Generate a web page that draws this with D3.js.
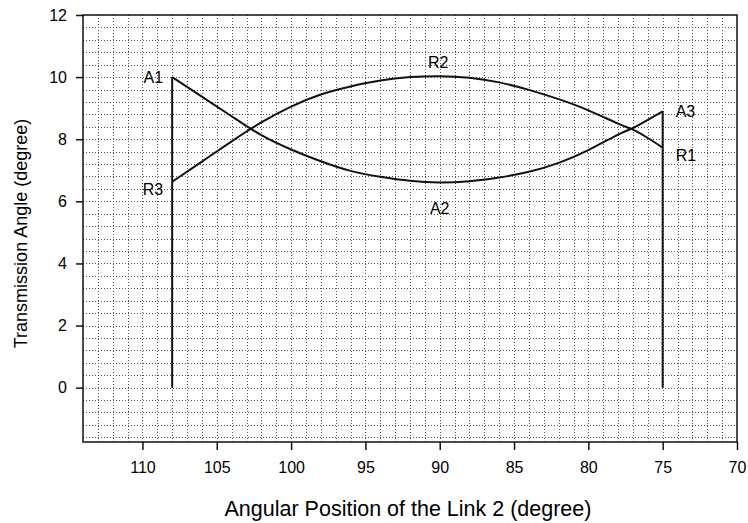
<!DOCTYPE html>
<html>
<head>
<meta charset="utf-8">
<script src="https://cdn.jsdelivr.net/npm/d3@7"></script>
<style>
  html, body { margin: 0; padding: 0; background: #fff; }
  text { font-family: "Liberation Sans", Arial, Helvetica, sans-serif; fill: #000; }
</style>
</head>
<body>
<svg id="chart" width="748" height="523"></svg>
<script>
// ---- data ----
const linkAngles = [108, 106, 104, 102, 100, 98, 96, 94, 92, 90, 88, 86, 84, 82, 80, 78, 77, 76, 75];
const curveA = [10.0, 9.37, 8.74, 8.13, 7.67, 7.29, 6.98, 6.79, 6.66, 6.61, 6.65, 6.77, 6.95, 7.24, 7.65, 8.15, 8.36, 8.62, 8.9];
const curveR = [6.63, 7.28, 7.93, 8.54, 9.05, 9.44, 9.70, 9.89, 10.0, 10.03, 9.98, 9.83, 9.59, 9.29, 8.93, 8.5, 8.31, 8.04, 7.73];
const verticalLeft = { angle: 108, from: 0, to: 10.0 };
const verticalRight = { angle: 75, from: 0, to: 8.9 };
const xTicks = [110, 105, 100, 95, 90, 85, 80, 75, 70];
const yTicks = [0, 2, 4, 6, 8, 10, 12];
const pointLabels = [
  { name: "A1", angle: 108, value: 10.0, side: "left" },
  { name: "R3", angle: 108, value: 6.4, side: "left" },
  { name: "R2", angle: 90.1, value: 10.5, side: "mid" },
  { name: "A2", angle: 90, value: 5.8, side: "mid" },
  { name: "A3", angle: 75, value: 8.9, side: "right" },
  { name: "R1", angle: 75, value: 7.5, side: "right" }
];

// ---- layout ----
const svg = d3.select("#chart");
const L = 83, R = 737, T = 15, B = 442;
const x = d3.scaleLinear().domain([114, 70]).range([L, R]);
const y = d3.scaleLinear().domain([-1.75, 12]).range([B, T]);
const snap = v => Math.round(v) + 0.5;

// grid
const gx = d3.range(113, 70.5, -1);
const gy = d3.range(1, 35).map(k => +(12 - 0.4 * k).toFixed(2)).filter(v => v >= -1.75);
const grid = svg.append("g").attr("stroke", "#555").attr("stroke-width", 1).attr("stroke-dasharray", "1,2");
grid.selectAll("line.v").data(gx).join("line")
  .attr("x1", d => snap(x(d))).attr("x2", d => snap(x(d))).attr("y1", T).attr("y2", B);
grid.selectAll("line.h").data(gy).join("line")
  .attr("y1", d => snap(y(d))).attr("y2", d => snap(y(d))).attr("x1", L).attr("x2", R);

// frame
svg.append("rect").attr("x", L).attr("y", T).attr("width", R - L).attr("height", B - T)
  .attr("fill", "none").attr("stroke", "#111").attr("stroke-width", 1.5);

// axes
const xAxis = d3.axisBottom(x).tickValues(xTicks).tickSize(8).tickPadding(12).tickFormat(d3.format("d"));
const gX = svg.append("g").attr("transform", `translate(0,${B})`).call(xAxis);
gX.select(".domain").remove();
gX.selectAll("line").attr("stroke", "#111").attr("stroke-width", 1.5);
gX.selectAll("text").attr("font-size", 16).attr("font-family", "Liberation Sans, Arial, sans-serif").attr("fill", "#000");

const yAxis = d3.axisLeft(y).tickValues(yTicks).tickSize(7).tickPadding(9).tickFormat(d3.format("d"));
const gY = svg.append("g").attr("transform", `translate(${L},0)`).call(yAxis);
gY.select(".domain").remove();
gY.selectAll("line").attr("stroke", "#111").attr("stroke-width", 1.5);
gY.selectAll("text").attr("font-size", 16).attr("font-family", "Liberation Sans, Arial, sans-serif").attr("fill", "#000");

// axis titles
svg.append("text").attr("x", 408).attr("y", 516).attr("text-anchor", "middle")
  .attr("font-size", 21.5).text("Angular Position of the Link 2 (degree)");
svg.append("text").attr("transform", `translate(27,${(T + B) / 2 + 5}) rotate(-90)`).attr("text-anchor", "middle")
  .attr("font-size", 18).text("Transmission Angle (degree)");

// curves
const line = d3.line().x(d => x(d[0])).y(d => y(d[1])).curve(d3.curveNatural);
const series = [curveA, curveR].map(vals => linkAngles.map((a, i) => [a, vals[i]]));
svg.append("g").selectAll("path").data(series).join("path")
  .attr("d", line).attr("fill", "none").attr("stroke", "#111").attr("stroke-width", 2);

[verticalLeft, verticalRight].forEach(v => {
  svg.append("line").attr("x1", x(v.angle)).attr("x2", x(v.angle))
    .attr("y1", y(v.from)).attr("y2", y(v.to))
    .attr("stroke", "#111").attr("stroke-width", 2);
});

// point labels
svg.append("g").selectAll("text").data(pointLabels).join("text")
  .attr("x", d => d.side === "left" ? x(d.angle) - 9 : d.side === "right" ? x(d.angle) + 13 : x(d.angle))
  .attr("y", d => y(d.value) + 6)
  .attr("text-anchor", d => d.side === "left" ? "end" : d.side === "right" ? "start" : "middle")
  .attr("font-size", 16)
  .text(d => d.name);
</script>
</body>
</html>
